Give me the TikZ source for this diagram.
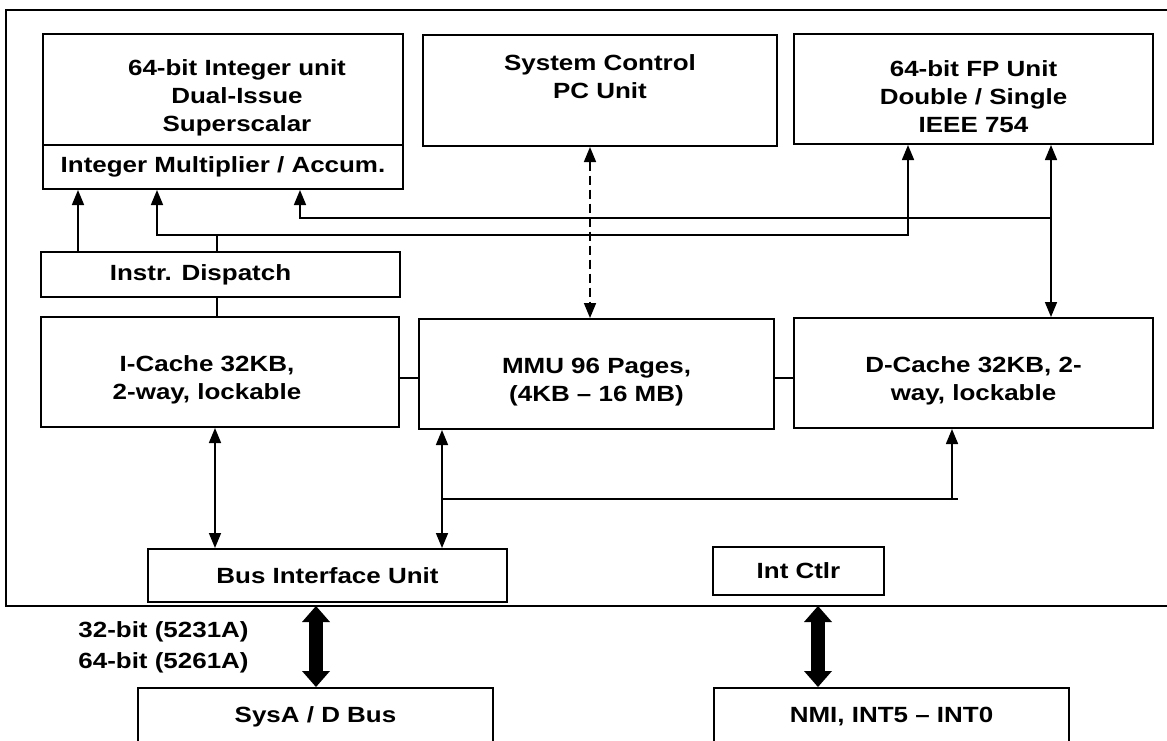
\documentclass[tikz,border=0pt]{standalone}
\usepackage{fontspec}
\setmainfont{Liberation Sans}[FakeStretch=1.18]
\usetikzlibrary{arrows.meta}

\newcommand{\tstrut}{\rule{0pt}{16pt}}

\begin{document}
\begin{tikzpicture}[x=0.5pt,y=-0.5pt,
    every node/.style={font=\fontsize{11}{14}\selectfont\bfseries},
    unit/.style={draw,line width=1pt,align=center,inner sep=0pt},
    link/.style={line width=0.8pt},
    >={Triangle[length=7.5pt,width=6pt]},
    bigbus/.style={line width=7pt,{Triangle[length=8pt,width=14pt,line width=0pt]}-{Triangle[length=8pt,width=14pt,line width=0pt]}}]
  \useasboundingbox (0,0) rectangle (1167,740);

  % chip outline, open on the right
  \draw[line width=1pt] (1180,10) -- (6,10) -- (6,606) -- (1180,606);
  \coordinate (chipS) at (0,606);

  % top row
  \node[unit,minimum width=180pt,minimum height=55.5pt] (iu) at (223,89.5)
    {\tstrut\hspace*{14pt}64-bit Integer unit\\\hspace*{14pt}Dual-Issue\\\hspace*{14pt}Superscalar};
  \node[unit,minimum width=180pt,minimum height=22pt] (mult) at (223,167) {Integer Multiplier / Accum.};
  \node[unit,minimum width=177pt,minimum height=55.5pt] (sysctl) at (600,90.5) {System Control\\PC Unit\\\mbox{}};
  \node[unit,minimum width=179.5pt,minimum height=55pt] (fpu) at (973.5,89)
    {\tstrut 64-bit FP Unit\\Double / Single\\IEEE 754};
  \node[unit,minimum width=179.5pt,minimum height=22.5pt] (disp) at (220.5,274.5) {\hspace*{-20pt}Instr. Dispatch};

  % caches and MMU
  \node[unit,minimum width=179pt,minimum height=55pt] (icache) at (220,372)
    {\tstrut\hspace*{-13pt}I-Cache 32KB,\\\hspace*{-13pt}2-way, lockable};
  \node[unit,minimum width=177.5pt,minimum height=55pt] (mmu) at (596.5,374)
    {\tstrut MMU 96 Pages,\\(4KB – 16 MB)};
  \node[unit,minimum width=179.5pt,minimum height=55pt] (dcache) at (973.5,373)
    {\tstrut D-Cache 32KB, 2-\\way, lockable};

  % bus side
  \node[unit,minimum width=179.5pt,minimum height=26.5pt] (biu) at (327.5,575.5) {Bus Interface Unit};
  \node[unit,minimum width=85.5pt,minimum height=24pt] (intc) at (798.5,571) {Int Ctlr};
  \node[unit,minimum width=177.5pt,minimum height=29pt] (sysbus) at (315.5,717) {SysA / D Bus};
  \node[unit,minimum width=177.5pt,minimum height=29pt] (nmi) at (891.5,717) {NMI, INT5 – INT0};
  \node[anchor=west,inner sep=0pt] (w32) at (78,632) {32-bit (5231A)};
  \node[anchor=west,inner sep=0pt] (w64) at (78,663) {64-bit (5261A)};

  % issue paths
  \coordinate (dsp) at (217,235);
  \coordinate (fpj) at (1051,218);
  \draw[link,->] (disp.north -| 78,0) -- (mult.south -| 78,0);
  \draw[link] (disp.north -| dsp) -- (dsp);
  \draw[link,->] (dsp) -| (mult.south -| 157,0);
  \draw[link,->] (dsp) -| (fpu.south -| 908,0);
  \draw[link,<->] (fpu.south -| fpj) -- (dcache.north -| fpj);
  \draw[link,->] (fpj) -| (mult.south -| 300,0);
  \draw[link,<->,dash pattern=on 4.5pt off 2.5pt] (sysctl.south -| 590,0) -- (mmu.north -| 590,0);
  \draw[link] (disp.south -| 217,0) -- (icache.north -| 217,0);
  \draw[link] (icache.east |- 0,378) -- (mmu.west |- 0,378);
  \draw[link] (mmu.east |- 0,378) -- (dcache.west |- 0,378);

  % memory paths
  \coordinate (mj) at (442,499);
  \coordinate (dj) at (952,499);
  \draw[link,<->] (icache.south -| 215,0) -- (biu.north -| 215,0);
  \draw[link,<->] (mmu.south -| mj) -- (biu.north -| mj);
  \draw[link] (mj) -- (dj) -- ++(6,0);
  \draw[link,->] (dj) -- (dcache.south -| dj);

  % external buses
  \draw[bigbus] (chipS -| 316,0) -- (sysbus.north -| 316,0);
  \draw[bigbus] (chipS -| 818,0) -- (nmi.north -| 818,0);
\end{tikzpicture}
\end{document}
